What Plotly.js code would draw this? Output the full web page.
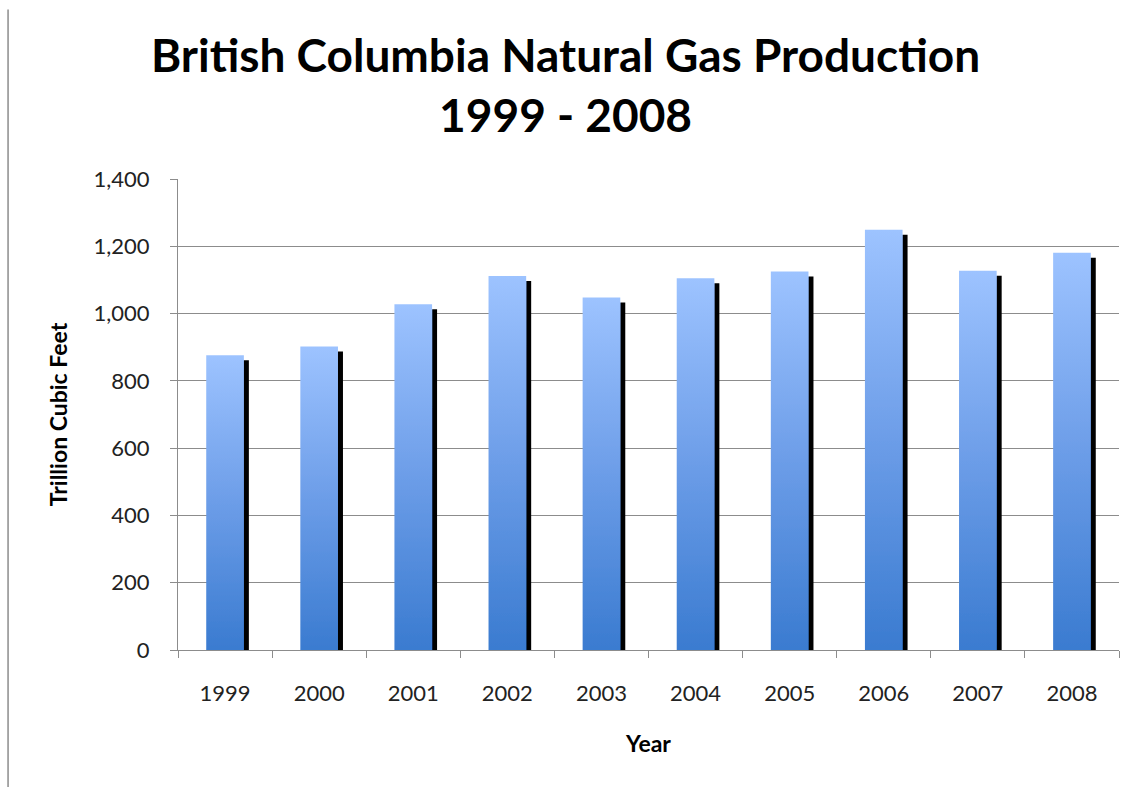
<!DOCTYPE html>
<html>
<head>
<meta charset="utf-8">
<script src="https://cdn.plot.ly/plotly-3.0.1.min.js"></script>
<style>
  body { margin: 0; background: #fff; }
  #chart { width: 1138px; height: 787px; }
</style>
</head>
<body>
<div id="chart"></div>
<script>
// values
var years = ['1999', '2000', '2001', '2002', '2003', '2004', '2005', '2006', '2007', '2008'];
var production = [876, 902, 1028, 1112, 1048, 1105, 1125, 1249, 1127, 1181];

var fontFamily = 'Lato, "Open Sans", sans-serif';

var trace = {
  x: years,
  y: production,
  type: 'bar',
  width: 0.4,
  marker: { color: '#6a9be6', line: { width: 0 } },
  hoverinfo: 'x+y'
};

var layout = {
  width: 1138,
  height: 787,
  paper_bgcolor: '#ffffff',
  plot_bgcolor: '#ffffff',
  margin: { l: 178, r: 19, t: 179, b: 137 },
  showlegend: false,
  title: {
    text: '<b>British Columbia Natural Gas Production<br>1999 - 2008</b>',
    font: { family: fontFamily, size: 46, color: '#000000' },
    x: 0.497,
    xanchor: 'center',
    y: 0.908,
    yanchor: 'middle'
  },
  xaxis: {
    type: 'category',
    showline: true,
    linecolor: '#8c8c8c',
    linewidth: 1,
    ticks: 'outside',
    tickson: 'boundaries',
    ticklen: 7,
    tickcolor: '#8c8c8c',
    ticklabelstandoff: 24,
    tickfont: { family: fontFamily, size: 22, color: '#222222' },
    showgrid: false,
    title: {
      text: '<b>Year</b>',
      font: { family: fontFamily, size: 23, color: '#000000' },
      standoff: 30
    }
  },
  yaxis: {
    range: [0, 1400],
    dtick: 200,
    tickformat: ',d',
    showline: true,
    linecolor: '#8c8c8c',
    linewidth: 1,
    ticks: 'outside',
    ticklen: 7,
    tickcolor: '#8c8c8c',
    ticklabelstandoff: 16,
    tickfont: { family: fontFamily, size: 22, color: '#222222' },
    showgrid: true,
    gridcolor: '#8c8c8c',
    gridwidth: 1,
    zeroline: false,
    title: {
      text: '<b>Trillion Cubic Feet</b>',
      font: { family: fontFamily, size: 23, color: '#000000' },
      standoff: 19
    }
  },
  shapes: [{
    type: 'line', xref: 'paper', yref: 'paper',
    x0: -0.1806, x1: -0.1806, y0: -0.30, y1: 1.36,
    line: { color: '#8c8c8c', width: 1.5 }
  }]
};

Plotly.newPlot('chart', [trace], layout, { displayModeBar: false, staticPlot: true }).then(function (gd) {
  // vertical gradient and drop shadow on the bars, like the original
  var ns = 'http://www.w3.org/2000/svg';
  var defs = gd.querySelector('.main-svg defs');

  var grad = document.createElementNS(ns, 'linearGradient');
  grad.setAttribute('id', 'barGrad');
  grad.setAttribute('x1', '0'); grad.setAttribute('y1', '0');
  grad.setAttribute('x2', '0'); grad.setAttribute('y2', '1');
  [['0', '#9dc3ff'], ['0.5', '#6c9de8'], ['1', '#3a7bd0']].forEach(function (s) {
    var stop = document.createElementNS(ns, 'stop');
    stop.setAttribute('offset', s[0]);
    stop.setAttribute('stop-color', s[1]);
    grad.appendChild(stop);
  });
  defs.appendChild(grad);

  var filt = document.createElementNS(ns, 'filter');
  filt.setAttribute('id', 'barShadow');
  filt.setAttribute('x', '-20%'); filt.setAttribute('y', '-20%');
  filt.setAttribute('width', '150%'); filt.setAttribute('height', '150%');
  var ds = document.createElementNS(ns, 'feDropShadow');
  ds.setAttribute('dx', '5');
  ds.setAttribute('dy', '5');
  ds.setAttribute('stdDeviation', '0.6');
  ds.setAttribute('flood-color', '#000000');
  ds.setAttribute('flood-opacity', '1');
  filt.appendChild(ds);
  defs.appendChild(filt);

  gd.querySelectorAll('.barlayer .point path').forEach(function (p) {
    p.style.fill = 'url(#barGrad)';
    p.setAttribute('filter', 'url(#barShadow)');
  });
});
</script>
</body>
</html>
